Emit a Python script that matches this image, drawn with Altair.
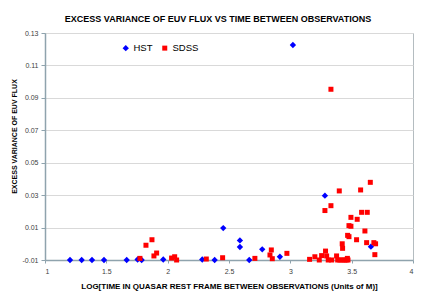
import altair as alt
import pandas as pd

hst_x = [1.204, 1.299, 1.383, 1.481, 1.666, 1.755, 1.788, 1.964, 2.282, 2.383,
         2.453, 2.589, 2.589, 2.665, 2.771, 2.915, 3.021, 3.282, 3.657]
hst_y = [-0.01, -0.01, -0.01, -0.01, -0.01, -0.0097, -0.01, -0.0097, -0.0097, -0.01,
         0.0097, 0.0021, -0.002, -0.01, -0.0034, -0.008, 0.1226, 0.0297, -0.0018]

sdss_x = [1.774, 1.823, 1.872, 1.888, 1.910, 2.032, 2.057, 2.073, 2.315, 2.448,
          2.711, 2.834, 2.845, 2.853, 2.972, 3.157, 3.200, 3.236, 3.255, 3.282,
          3.287, 3.296, 3.309, 3.331, 3.331, 3.337, 3.377, 3.386, 3.399, 3.404,
          3.423, 3.423, 3.426, 3.440, 3.455, 3.465, 3.470, 3.467, 3.478, 3.478,
          3.494, 3.494, 3.540, 3.545, 3.573, 3.581, 3.608, 3.622, 3.627, 3.652,
          3.681, 3.695, 3.689]
sdss_y = [-0.009, -0.0009, 0.0025, -0.0075, -0.0057, -0.0088, -0.008, -0.01, -0.0094, -0.0086,
          -0.009, -0.0069, -0.0038, -0.0092, -0.0059, -0.0096, -0.008, -0.01, -0.0073, 0.0205,
          -0.0045, -0.0075, -0.01, 0.0235, 0.0953, -0.01, -0.0075, -0.01, 0.0326, -0.01,
          -0.01, 0.0, -0.0028, -0.01, -0.01, -0.009, -0.01, 0.0052, 0.0044, 0.0112,
          0.0108, 0.0163, 0.0025, 0.0151, 0.0332, 0.0194, 0.0079, 0.0007, 0.0194, 0.0379,
          0.0007, 0.0, -0.0067]

series = ["HST", "SDSS"]
colors = ["#0000ff", "#ff0000"]
shapes = ["diamond", "square"]
sizes = [40, 25]

title_text = "EXCESS VARIANCE OF EUV FLUX VS TIME BETWEEN OBSERVATIONS"
x_title = "LOG[TIME IN QUASAR REST FRAME BETWEEN OBSERVATIONS (Units of M)]"
y_title = "EXCESS VARIANCE OF EUV FLUX"
x_ticks = [1, 1.5, 2, 2.5, 3, 3.5, 4]
y_ticks = [-0.01, 0.01, 0.03, 0.05, 0.07, 0.09, 0.11, 0.13]

df = pd.DataFrame({
    "x": hst_x + sdss_x,
    "y": hst_y + sdss_y,
    "series": ["HST"] * len(hst_x) + ["SDSS"] * len(sdss_x),
})

FONT = "Liberation Sans"

legend = alt.Legend(
    title=None, orient="none", legendX=76, legendY=10, direction="horizontal",
    padding=0, symbolSize=16, labelFontSize=9.5, labelFont=FONT, labelColor="#000000",
    labelOffset=3, columnPadding=7, symbolStrokeWidth=0, symbolOpacity=1,
)

chart = alt.Chart(df).mark_point(filled=True, opacity=1, clip=False).encode(
    x=alt.X("x:Q", scale=alt.Scale(domain=[1, 4], nice=False, zero=False),
            axis=alt.Axis(values=x_ticks, format="~g", title=x_title, grid=False,
                          tickSize=3, labelPadding=4, titleY=28, titleBaseline="alphabetic")),
    y=alt.Y("y:Q", scale=alt.Scale(domain=[-0.01, 0.13], nice=False, zero=False),
            axis=alt.Axis(values=y_ticks, title=y_title, grid=True,
                          labelExpr="(datum.value < 0 ? '-' : '') + format(abs(datum.value), '.2f')",
                          tickSize=4, labelPadding=3, titleX=-31, titleY=103,
                          titleBaseline="middle", titleAlign="center", titleAngle=-90)),
    color=alt.Color("series:N", scale=alt.Scale(domain=series, range=colors), legend=legend),
    shape=alt.Shape("series:N", scale=alt.Scale(domain=series, range=shapes), legend=legend),
    size=alt.Size("series:N", scale=alt.Scale(domain=series, range=sizes), legend=None),
).properties(
    width=368, height=227,
    title=alt.TitleParams(title_text, anchor="middle", frame="group", offset=12,
                          baseline="alphabetic", dx=-11, dy=14, fontSize=9, font=FONT,
                          fontWeight="bold", color="#000000"),
    autosize=alt.AutoSizeParams(type="none"),
    padding={"left": 37, "top": 25, "right": 15, "bottom": 31},
).configure_view(
    stroke="#b4bcc0", strokeWidth=1
).configure_axis(
    labelFont=FONT, labelFontSize=7, labelColor="#404040",
    titleFont=FONT, titleFontWeight="bold", titleColor="#000000",
    gridColor="#d9d9d9", gridWidth=1,
    tickColor="#8fa3ad", domainColor="#8fa3ad", domainWidth=1.5,
).configure_axisX(
    titleFontSize=8
).configure_axisY(
    titleFontSize=7
)

chart.save("out.html", embed_options={"renderer": "svg", "actions": False})
